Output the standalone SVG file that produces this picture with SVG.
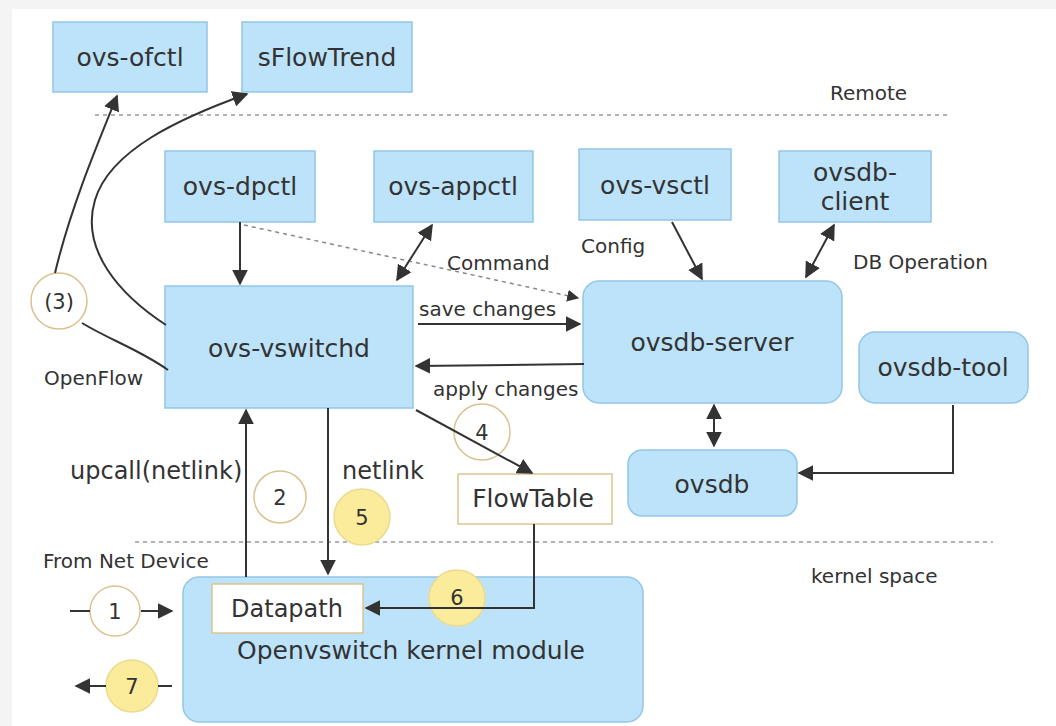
<svg xmlns="http://www.w3.org/2000/svg" width="1056" height="726" viewBox="0 0 1056 726">
<defs>
<style>
text{font-family:"DejaVu Sans","Liberation Sans",sans-serif;fill:#333;}
.n{font-size:25px;text-anchor:middle;}
.l{font-size:20px;}
.b{fill:#bde3fa;stroke:#93c6e8;stroke-width:1.5;}
.w{fill:#fff;stroke:#dcc48e;stroke-width:1.5;}
.cw{fill:#fff;stroke:#d9c28f;stroke-width:1.5;}
.cy{fill:#fbec9b;stroke:#eadb90;stroke-width:1.5;}
.c{fill:none;stroke:#333;stroke-width:2;}
.d{fill:none;stroke:#999;stroke-width:1.5;stroke-dasharray:4 4;}
.cn{font-size:21px;text-anchor:middle;}
</style>
<marker id="ah" viewBox="0 0 10 10" refX="9" refY="5" markerWidth="8" markerHeight="8" orient="auto-start-reverse"><path d="M0,0 L10,5 L0,10 z" fill="#333"/></marker>
</defs>
<rect x="0" y="0" width="1056" height="726" fill="#f4f4f4"/>
<rect x="12" y="9" width="1044" height="717" fill="#fff"/>

<g id="separators">
<line x1="95" y1="115" x2="951" y2="115" class="d"/>
<line x1="135" y1="542" x2="993" y2="542" class="d"/>
<text class="l" x="830" y="100">Remote</text>
<text class="l" x="811" y="583">kernel space</text>
</g>

<g id="ovs-ofctl"><rect class="b" x="53" y="22" width="154" height="70"/><text class="n" x="130" y="66">ovs-ofctl</text></g>
<g id="sFlowTrend"><rect class="b" x="242" y="22" width="170" height="70"/><text class="n" x="327" y="66">sFlowTrend</text></g>
<g id="ovs-dpctl"><rect class="b" x="165" y="151" width="150" height="71"/><text class="n" x="240" y="195">ovs-dpctl</text></g>
<g id="ovs-appctl"><rect class="b" x="374" y="151" width="159" height="71"/><text class="n" x="453" y="195">ovs-appctl</text></g>
<g id="ovs-vsctl"><rect class="b" x="579" y="149" width="152" height="71"/><text class="n" x="655" y="194">ovs-vsctl</text></g>
<g id="ovsdb-client"><rect class="b" x="779" y="151" width="152" height="71"/><text class="n" x="855" y="181">ovsdb-</text><text class="n" x="855" y="210">client</text></g>
<g id="ovs-vswitchd"><rect class="b" x="165" y="286" width="248" height="122"/><text class="n" x="289" y="357">ovs-vswitchd</text></g>
<g id="ovsdb-server"><rect class="b" x="583" y="281" width="259" height="122" rx="16"/><text class="n" x="712" y="351">ovsdb-server</text></g>
<g id="ovsdb-tool"><rect class="b" x="859" y="332" width="169" height="71" rx="16"/><text class="n" x="943" y="376">ovsdb-tool</text></g>
<g id="ovsdb"><rect class="b" x="628" y="450" width="169" height="66" rx="14"/><text class="n" x="712" y="493">ovsdb</text></g>
<g id="FlowTable"><rect class="w" x="458" y="474" width="154" height="50"/><text class="n" x="533" y="507">FlowTable</text></g>
<g id="kernel-module"><rect class="b" x="183" y="577" width="460" height="145" rx="16"/><text class="n" x="411" y="659">Openvswitch kernel module</text></g>
<g id="Datapath"><rect class="w" x="212" y="584" width="151" height="49"/><text class="n" x="287" y="617" style="font-size:24px">Datapath</text></g>

<g id="step-3"><circle class="cw" cx="59" cy="301" r="28"/><text class="cn" x="59" y="309">(3)</text></g>
<g id="step-2"><circle class="cw" cx="280" cy="497" r="26"/><text class="cn" x="280" y="505">2</text></g>
<g id="step-5"><circle class="cy" cx="362" cy="517" r="28"/><text class="cn" x="362" y="525">5</text></g>
<g id="step-4"><circle class="cw" cx="482" cy="432" r="28"/><text class="cn" x="482" y="440">4</text></g>
<g id="step-1"><circle class="cw" cx="115" cy="611" r="25"/><text class="cn" x="115" y="619">1</text></g>
<g id="step-6"><circle class="cy" cx="457" cy="598" r="28"/><text class="cn" x="457" y="605">6</text></g>
<g id="step-7"><circle class="cy" cx="132" cy="686" r="26"/><text class="cn" x="132" y="694">7</text></g>

<g id="connectors">
<path class="c" d="M55,273 C70,210 95,150 117,96" marker-end="url(#ah)"/>
<path class="c" d="M166,325 C120,295 80,250 95,200 C110,150 180,118 247,94" marker-end="url(#ah)"/>
<path class="c" d="M82,323 C110,340 140,350 168,370"/>
<line class="c" x1="240" y1="222" x2="240" y2="284" marker-end="url(#ah)"/>
<line class="d" x1="244" y1="225" x2="578" y2="298" style="stroke:#888" marker-end="url(#ah)"/>
<line class="c" x1="432" y1="225" x2="397" y2="280" marker-start="url(#ah)" marker-end="url(#ah)"/>
<line class="c" x1="418" y1="324" x2="580" y2="324" marker-end="url(#ah)"/>
<line class="c" x1="584" y1="364" x2="416" y2="366" marker-end="url(#ah)"/>
<line class="c" x1="416" y1="410" x2="532" y2="473" marker-end="url(#ah)"/>
<line class="c" x1="672" y1="222" x2="702" y2="279" marker-end="url(#ah)"/>
<line class="c" x1="834" y1="225" x2="806" y2="277" marker-start="url(#ah)" marker-end="url(#ah)"/>
<line class="c" x1="714" y1="405" x2="714" y2="446" marker-start="url(#ah)" marker-end="url(#ah)"/>
<path class="c" d="M953,405 L953,473 L799,473" marker-end="url(#ah)"/>
<line class="c" x1="246" y1="577" x2="246" y2="410" marker-end="url(#ah)"/>
<line class="c" x1="328" y1="408" x2="328" y2="574" marker-end="url(#ah)"/>
<path class="c" d="M534,524 L534,608 L366,608" marker-end="url(#ah)"/>
<line class="c" x1="70" y1="611" x2="90" y2="611"/>
<line class="c" x1="141" y1="611" x2="172" y2="611" marker-end="url(#ah)"/>
<line class="c" x1="172" y1="686" x2="158" y2="686"/>
<line class="c" x1="106" y1="686" x2="76" y2="686" marker-end="url(#ah)"/>
<text class="l" x="447" y="270">Command</text>
<text class="l" x="581" y="253">Config</text>
<text class="l" x="853" y="269">DB Operation</text>
<text class="l" x="419" y="316">save changes</text>
<text class="l" x="433" y="396">apply changes</text>
<text class="l" x="44" y="385">OpenFlow</text>
<text class="l" x="43" y="568">From Net Device</text>
<text x="70" y="479" style="font-size:24px">upcall(netlink)</text>
<text x="342" y="479" style="font-size:24px">netlink</text>
</g>
</svg>
